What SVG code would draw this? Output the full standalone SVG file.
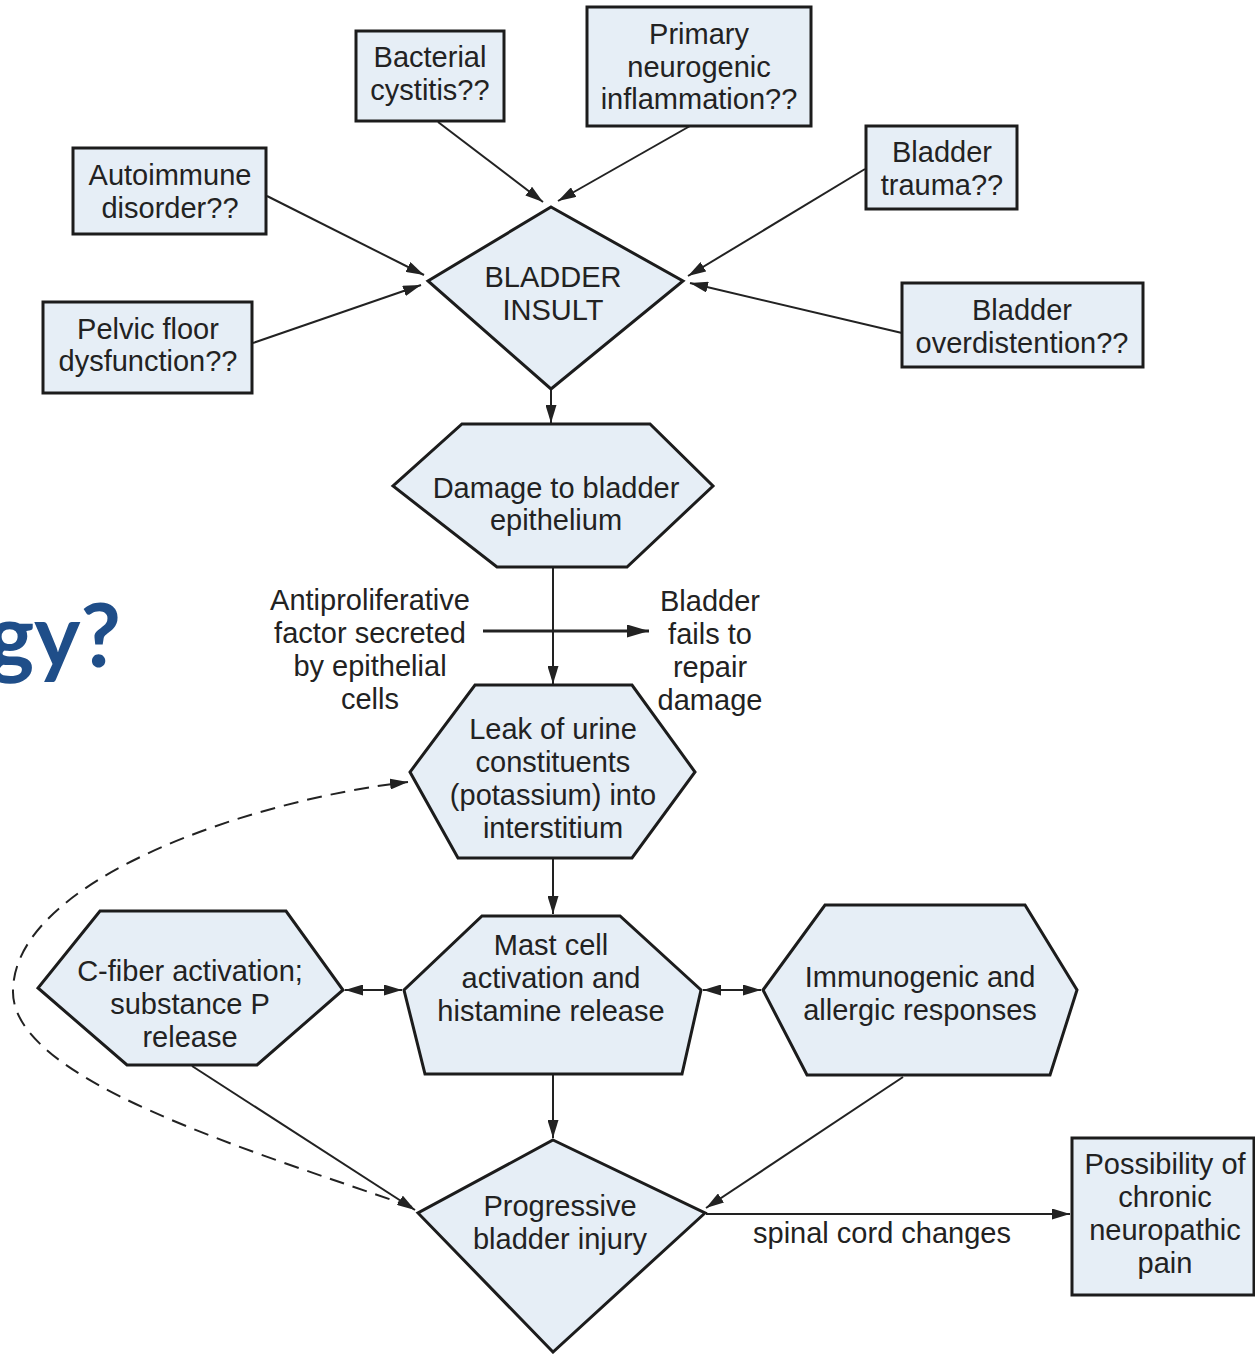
<svg xmlns="http://www.w3.org/2000/svg" width="1255" height="1354" viewBox="0 0 1255 1354">
<defs>
<style>
.node{fill:#e6eef6;stroke:#1c1c1c;stroke-width:3;stroke-linejoin:miter}
.t{font-family:"Liberation Sans",Arial,sans-serif;font-size:29px;fill:#222;text-anchor:middle}
.c{fill:none;stroke:#222;stroke-width:2}
.d{fill:none;stroke:#222;stroke-width:2;stroke-dasharray:15 9}
</style>
<marker id="ah" viewBox="0 0 18 11" refX="18" refY="5.5" markerWidth="18" markerHeight="11" markerUnits="userSpaceOnUse" orient="auto-start-reverse">
<path d="M0,0 L18,5.5 L0,11 z" fill="#222"/>
</marker>
<marker id="ahb" viewBox="0 0 22 13" refX="22" refY="6.5" markerWidth="22" markerHeight="13" markerUnits="userSpaceOnUse" orient="auto">
<path d="M0,0 L22,6.5 L0,13 z" fill="#222"/>
</marker>
</defs>
<rect width="1255" height="1354" fill="#fff"/>
<text x="121" y="667" font-family="Lato,'Open Sans',sans-serif" font-weight="700" font-size="88" fill="#1f4e89" text-anchor="end">gy?</text>

<g id="connectors">
<line class="c" x1="438" y1="122" x2="543" y2="202" marker-end="url(#ah)"/>
<line class="c" x1="690" y1="126" x2="558" y2="201" marker-end="url(#ah)"/>
<line class="c" x1="267" y1="196" x2="424" y2="275" marker-end="url(#ah)"/>
<line class="c" x1="253" y1="343" x2="421" y2="285" marker-end="url(#ah)"/>
<line class="c" x1="865" y1="169" x2="688" y2="276" marker-end="url(#ah)"/>
<line class="c" x1="902" y1="333" x2="690" y2="283" marker-end="url(#ah)"/>
<line class="c" x1="551" y1="390" x2="551" y2="423" marker-end="url(#ah)"/>
<line class="c" x1="553" y1="568" x2="553" y2="684" marker-end="url(#ah)"/>
<line class="c" style="stroke-width:3" x1="483" y1="631" x2="649" y2="631" marker-end="url(#ahb)"/>
<line class="c" x1="553" y1="859" x2="553" y2="914" marker-end="url(#ah)"/>
<line class="c" x1="345" y1="990" x2="402" y2="990" marker-start="url(#ah)" marker-end="url(#ah)"/>
<line class="c" x1="703" y1="990" x2="761" y2="990" marker-start="url(#ah)" marker-end="url(#ah)"/>
<line class="c" x1="553" y1="1075" x2="553" y2="1138" marker-end="url(#ah)"/>
<line class="c" x1="192" y1="1066" x2="415" y2="1210" marker-end="url(#ah)"/>
<line class="c" x1="903" y1="1077" x2="706" y2="1208" marker-end="url(#ah)"/>
<line class="c" x1="706" y1="1214" x2="1070" y2="1214" marker-end="url(#ah)"/>
<path class="d" d="M412 1207 C250 1150 10 1080 13 990 C15 880 250 800 408 782" marker-end="url(#ah)"/>
<text class="t" x="882" y="1243">spinal cord changes</text>
</g>

<g id="bacterial">
<rect class="node" x="356" y="31" width="148" height="90"/>
<text class="t" x="430" y="67">Bacterial</text>
<text class="t" x="430" y="100">cystitis??</text>
</g>
<g id="primary">
<rect class="node" x="587" y="7" width="224" height="119"/>
<text class="t" x="699" y="44">Primary</text>
<text class="t" x="699" y="77">neurogenic</text>
<text class="t" x="699" y="109">inflammation??</text>
</g>
<g id="autoimmune">
<rect class="node" x="73" y="148" width="193" height="86"/>
<text class="t" x="170" y="185">Autoimmune</text>
<text class="t" x="170" y="218">disorder??</text>
</g>
<g id="pelvic">
<rect class="node" x="43" y="302" width="209" height="91"/>
<text class="t" x="148" y="339">Pelvic floor</text>
<text class="t" x="148" y="371">dysfunction??</text>
</g>
<g id="trauma">
<rect class="node" x="866" y="126" width="151" height="83"/>
<text class="t" x="942" y="162">Bladder</text>
<text class="t" x="942" y="195">trauma??</text>
</g>
<g id="overdistention">
<rect class="node" x="902" y="283" width="241" height="84"/>
<text class="t" x="1022" y="320">Bladder</text>
<text class="t" x="1022" y="353">overdistention??</text>
</g>
<g id="insult">
<polygon class="node" points="551,207 683,281 551,389 428,281"/>
<text class="t" x="553" y="287">BLADDER</text>
<text class="t" x="553" y="320">INSULT</text>
</g>
<g id="damage">
<polygon class="node" points="462,424 650,424 713,486 627,567 497,567 393,486"/>
<text class="t" x="556" y="498">Damage to bladder</text>
<text class="t" x="556" y="530">epithelium</text>
</g>
<g id="antiproliferative">
<text class="t" x="370" y="610">Antiproliferative</text>
<text class="t" x="370" y="643">factor secreted</text>
<text class="t" x="370" y="676">by epithelial</text>
<text class="t" x="370" y="709">cells</text>
</g>
<g id="fails">
<text class="t" x="710" y="611">Bladder</text>
<text class="t" x="710" y="644">fails to</text>
<text class="t" x="710" y="677">repair</text>
<text class="t" x="710" y="710">damage</text>
</g>
<g id="leak">
<polygon class="node" points="475,685 632,685 695,772 632,858 458,858 410,772"/>
<text class="t" x="553" y="739">Leak of urine</text>
<text class="t" x="553" y="772">constituents</text>
<text class="t" x="553" y="805">(potassium) into</text>
<text class="t" x="553" y="838">interstitium</text>
</g>
<g id="cfiber">
<polygon class="node" points="100,911 286,911 343,990 257,1065 127,1065 38,988"/>
<text class="t" x="190" y="981">C-fiber activation;</text>
<text class="t" x="190" y="1014">substance P</text>
<text class="t" x="190" y="1047">release</text>
</g>
<g id="mast">
<polygon class="node" points="482,916 620,916 701,990 682,1074 425,1074 404,990"/>
<text class="t" x="551" y="955">Mast cell</text>
<text class="t" x="551" y="988">activation and</text>
<text class="t" x="551" y="1021">histamine release</text>
</g>
<g id="immunogenic">
<polygon class="node" points="825,905 1025,905 1077,990 1050,1075 807,1075 763,990"/>
<text class="t" x="920" y="987">Immunogenic and</text>
<text class="t" x="920" y="1020">allergic responses</text>
</g>
<g id="progressive">
<polygon class="node" points="553,1140 705,1213 553,1352 418,1213"/>
<text class="t" x="560" y="1216">Progressive</text>
<text class="t" x="560" y="1249">bladder injury</text>
</g>
<g id="possibility">
<rect class="node" x="1072" y="1138" width="182" height="157"/>
<text class="t" x="1165" y="1174">Possibility of</text>
<text class="t" x="1165" y="1207">chronic</text>
<text class="t" x="1165" y="1240">neuropathic</text>
<text class="t" x="1165" y="1273">pain</text>
</g>
</svg>
